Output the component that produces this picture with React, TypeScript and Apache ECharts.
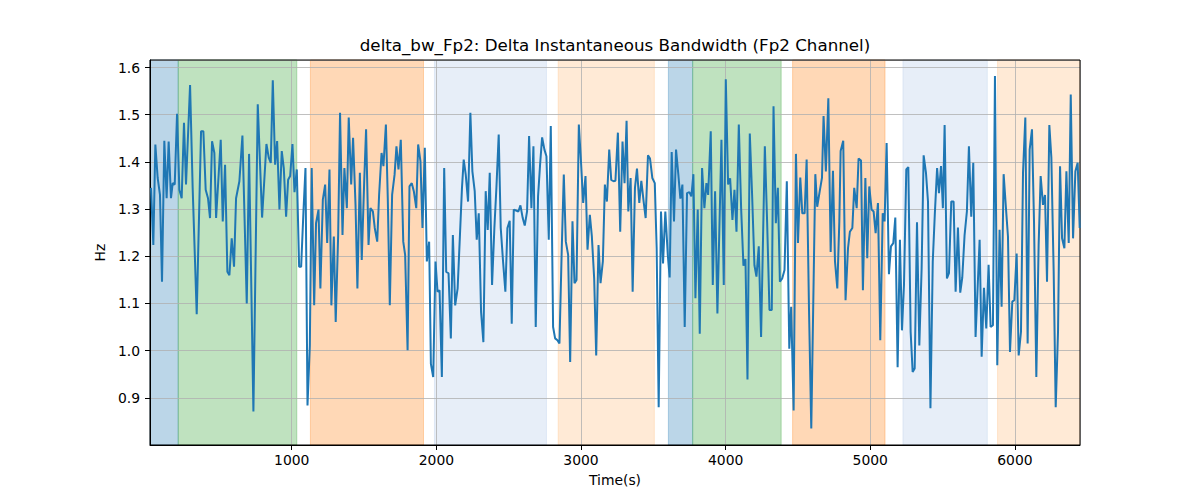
import React, { useEffect, useRef } from 'react';
import * as echarts from 'echarts';

// time stamps (s) and bandwidth values (Hz)
const times: number[] = [
  27, 43, 57, 73, 89, 103, 119, 135, 149, 165, 177, 191, 207, 223, 239, 255, 269, 297, 315, 343,
  373, 389, 405, 421, 435, 449, 465, 477, 509, 523, 539, 555, 569, 585, 601, 615, 638, 659, 689, 705,
  735, 765, 795, 825, 841, 855, 869, 885, 899, 915, 931, 945, 961, 975, 989, 1005, 1019, 1035, 1051, 1065,
  1081, 1095, 1109, 1125, 1138, 1155, 1168, 1185, 1198, 1215, 1231, 1245, 1261, 1274, 1291, 1304, 1321, 1334, 1351, 1364,
  1381, 1394, 1411, 1424, 1441, 1454, 1471, 1484, 1501, 1514, 1531, 1544, 1561, 1574, 1591, 1604, 1621, 1634, 1651, 1664,
  1678, 1694, 1711, 1724, 1738, 1754, 1771, 1784, 1801, 1814, 1830, 1844, 1861, 1874, 1890, 1904, 1920, 1934, 1950, 1962,
  1978, 1994, 2008, 2022, 2038, 2054, 2068, 2084, 2100, 2114, 2130, 2147, 2163, 2177, 2189, 2203, 2219, 2235, 2249, 2265,
  2279, 2293, 2309, 2325, 2341, 2355, 2369, 2385, 2401, 2415, 2431, 2445, 2461, 2477, 2491, 2507, 2521, 2535, 2551, 2567,
  2581, 2597, 2611, 2627, 2641, 2657, 2671, 2687, 2703, 2717, 2731, 2747, 2761, 2777, 2791, 2807, 2821, 2837, 2851, 2867,
  2881, 2895, 2911, 2925, 2941, 2955, 2969, 2985, 3001, 3015, 3031, 3045, 3061, 3075, 3091, 3105, 3121, 3135, 3151, 3165,
  3179, 3195, 3209, 3225, 3238, 3255, 3271, 3287, 3301, 3315, 3327, 3343, 3357, 3373, 3387, 3403, 3417, 3433, 3447, 3463,
  3477, 3493, 3510, 3523, 3537, 3553, 3567, 3583, 3600, 3613, 3627, 3643, 3657, 3673, 3687, 3701, 3717, 3733, 3749, 3763,
  3777, 3791, 3807, 3821, 3837, 3853, 3867, 3879, 3897, 3911, 3927, 3943, 3971, 3987, 4001, 4017, 4031, 4047, 4061, 4075,
  4091, 4107, 4123, 4137, 4151, 4167, 4183, 4199, 4213, 4229, 4245, 4271, 4287, 4303, 4319, 4331, 4347, 4361, 4375, 4391,
  4407, 4423, 4440, 4453, 4470, 4486, 4500, 4516, 4530, 4546, 4560, 4576, 4592, 4620, 4633, 4650, 4666, 4677, 4693, 4710,
  4726, 4742, 4756, 4772, 4786, 4795, 4813, 4829, 4846, 4859, 4876, 4889, 4906, 4919, 4936, 4949, 4966, 4979, 4993, 5009,
  5023, 5037, 5053, 5069, 5086, 5099, 5113, 5129, 5143, 5159, 5173, 5189, 5205, 5219, 5233, 5249, 5263, 5279, 5293, 5307,
  5323, 5339, 5355, 5369, 5385, 5399, 5416, 5432, 5446, 5462, 5475, 5489, 5502, 5514, 5530, 5544, 5560, 5576, 5590, 5606,
  5622, 5636, 5652, 5668, 5682, 5698, 5712, 5728, 5756, 5770, 5786, 5802, 5818, 5832, 5848, 5862, 5878, 5894, 5908, 5922,
  5938, 5952, 5966, 5982, 5996, 6012, 6026, 6042, 6056, 6072, 6088, 6102, 6118, 6132, 6148, 6164, 6178, 6194, 6208, 6222,
  6238, 6252, 6268, 6282, 6298, 6312, 6326, 6342, 6356, 6372, 6386, 6402, 6418, 6434, 6448,
];

const bandwidth: number[] = [
  1.345, 1.224, 1.437, 1.366, 1.33, 1.146, 1.445, 1.323, 1.443, 1.323, 1.355, 1.352, 1.502, 1.341, 1.323, 1.483, 1.352, 1.563, 1.345, 1.077,
  1.465, 1.465, 1.341, 1.323, 1.281, 1.444, 1.419, 1.281, 1.447, 1.274, 1.394, 1.167, 1.16, 1.238, 1.178, 1.323, 1.359, 1.456, 1.1, 1.417,
  0.871, 1.522, 1.282, 1.438, 1.409, 1.398, 1.573, 1.394, 1.444, 1.299, 1.423, 1.387, 1.284, 1.362, 1.37, 1.438, 1.336, 1.384, 1.178, 1.178,
  1.295, 1.387, 0.884, 1.011, 1.387, 1.096, 1.27, 1.299, 1.132, 1.32, 1.352, 1.228, 1.384, 1.096, 1.242, 1.061, 1.245, 1.504, 1.245, 1.387,
  1.302, 1.494, 1.352, 1.451, 1.309, 1.132, 1.377, 1.192, 1.359, 1.469, 1.224, 1.302, 1.295, 1.26, 1.231, 1.33, 1.419, 1.391, 1.479, 1.323,
  1.096, 1.33, 1.373, 1.433, 1.384, 1.447, 1.231, 1.203, 1.001, 1.348, 1.355, 1.338, 1.302, 1.437, 1.401, 1.26, 1.43, 1.189, 1.231, 0.972,
  0.944, 1.189, 1.125, 1.128, 0.944, 1.387, 1.167, 1.164, 1.026, 1.245, 1.096, 1.132, 1.245, 1.345, 1.405, 1.373, 1.316, 1.504, 1.38, 1.338,
  1.235, 1.291, 1.082, 1.018, 1.338, 1.256, 1.377, 1.139, 1.26, 1.345, 1.458, 1.26, 1.189, 1.125, 1.26, 1.275, 1.057, 1.299, 1.297, 1.295,
  1.308, 1.281, 1.265, 1.295, 1.455, 1.302, 1.433, 1.05, 1.327, 1.394, 1.452, 1.426, 1.412, 1.235, 1.476, 1.05, 1.026, 1.022, 1.015, 1.217,
  1.373, 1.231, 1.203, 0.976, 1.274, 1.143, 1.15, 1.479, 1.394, 1.313, 1.37, 1.214, 1.288, 1.242, 1.153, 0.99, 1.224, 1.143, 1.189, 1.352,
  1.316, 1.426, 1.362, 1.359, 1.36, 1.462, 1.252, 1.443, 1.355, 1.487, 1.295, 1.366, 1.125, 1.345, 1.386, 1.313, 1.36, 1.316, 1.281, 1.414,
  1.407, 1.366, 1.355, 1.217, 0.88, 1.295, 1.185, 1.295, 1.203, 1.155, 1.421, 1.274, 1.426, 1.373, 1.322, 1.352, 1.05, 1.334, 1.336, 1.327,
  1.374, 1.111, 1.299, 1.036, 1.387, 1.302, 1.355, 1.33, 1.465, 1.139, 1.338, 1.079, 1.447, 1.139, 1.575, 1.352, 1.365, 1.277, 1.341, 1.252,
  1.479, 1.302, 1.18, 1.194, 0.939, 1.46, 1.33, 1.181, 1.157, 1.221, 1.029, 1.433, 1.27, 1.086, 1.086, 1.518, 1.27, 1.345, 1.146, 1.153,
  1.171, 1.359, 1.004, 1.093, 0.873, 1.417, 1.228, 1.367, 1.291, 1.291, 1.405, 1.093, 0.835, 1.374, 1.305, 1.337, 1.366, 1.497, 1.38, 1.535,
  1.209, 1.381, 1.189, 1.132, 1.274, 1.423, 1.445, 1.107, 1.217, 1.252, 1.26, 1.345, 1.302, 1.407, 1.403, 1.128, 1.366, 1.196, 1.348, 1.299,
  1.295, 1.249, 1.313, 1.022, 1.291, 1.274, 1.44, 1.162, 1.221, 1.228, 1.282, 0.965, 1.235, 1.043, 1.139, 1.384, 1.389, 1.04, 0.955, 0.962,
  1.272, 1.011, 1.174, 1.414, 1.377, 1.316, 0.878, 1.189, 1.288, 1.387, 1.334, 1.391, 1.302, 1.478, 1.153, 1.164, 1.316, 1.316, 1.125, 1.261,
  1.123, 1.155, 1.245, 1.295, 1.433, 1.284, 1.398, 1.029, 1.235, 0.987, 1.133, 1.047, 1.182, 1.05, 1.054, 1.582, 0.969, 1.256, 1.093, 1.374,
  1.302, 1.242, 0.997, 1.104, 1.107, 1.206, 0.99, 1.04, 1.377, 1.494, 1.015, 1.426, 1.469, 1.274, 0.944, 1.224, 1.37, 1.309, 1.33, 1.146,
  1.478, 1.409, 1.167, 0.88, 1.04, 1.391, 1.238, 1.217, 1.38, 1.228, 1.543, 1.238, 1.38, 1.398, 1.26,
];

// shaded segments
const bandStart: number[] = [20, 215, 1129, 1987, 2842, 3604, 3772, 4463, 5226, 5880];
const bandEnd: number[] = [215, 1035, 1911, 2761, 3507, 3772, 4384, 5102, 5809, 6450];
const bandKind: string[] = ['blue', 'green', 'orange', 'lightblue', 'lightorange', 'blue', 'green', 'orange', 'lightblue', 'lightorange'];

const bandColors: Record<string, string> = {
  blue: 'rgba(31,119,180,0.3)',
  green: 'rgba(44,160,44,0.3)',
  orange: 'rgba(255,127,14,0.3)',
  lightblue: 'rgba(174,199,232,0.3)',
  lightorange: 'rgba(255,187,120,0.3)',
};

const FONT = 'DejaVu Sans';

export default function App() {
  const chartRef = useRef<HTMLDivElement | null>(null);

  useEffect(() => {
    if (!chartRef.current) return;
    const chart = echarts.init(chartRef.current, undefined, { renderer: 'svg' });

    const lineData = times.map((t, i) => [t, bandwidth[i]]);
    const areas = bandStart.map((s, i) => {
      const c = bandColors[bandKind[i]];
      return [
        { xAxis: s, itemStyle: { color: c, borderColor: c, borderWidth: 1 } },
        { xAxis: bandEnd[i] },
      ];
    });

    const option = {
      animation: false,
      grid: {
        left: 150,
        top: 60,
        width: 930,
        height: 385,
        show: true,
        borderColor: '#000',
        borderWidth: 1,
        backgroundColor: 'transparent',
        z: 1.6,
      },
      graphic: [
        {
          type: 'text',
          x: 615,
          y: 36,
          z: 10,
          style: {
            text: 'delta_bw_Fp2: Delta Instantaneous Bandwidth (Fp2 Channel)',
            fontSize: 16.7,
            fontFamily: FONT,
            fill: '#000',
            textAlign: 'center',
            textVerticalAlign: 'top',
          },
        },
      ],
      xAxis: {
        type: 'value',
        min: 20,
        max: 6450,
        z: 1.5,
        name: 'Time(s)',
        nameLocation: 'middle',
        nameGap: 28,
        nameTextStyle: { fontSize: 13.9, fontFamily: FONT, color: '#000' },
        axisLine: { show: true, lineStyle: { color: '#000', width: 1 } },
        axisTick: { show: true, inside: false, length: 5, lineStyle: { color: '#000' } },
        axisLabel: {
          fontSize: 13.9,
          fontFamily: FONT,
          color: '#000',
          margin: 8,
          showMinLabel: false,
          showMaxLabel: false,
          formatter: (v: number) => String(Math.round(v)),
        },
        splitLine: { show: true, lineStyle: { color: '#b0b0b0', width: 0.8 } },
      },
      yAxis: {
        type: 'value',
        min: 0.8,
        max: 1.616,
        interval: 0.1,
        z: 1.5,
        name: 'Hz',
        nameLocation: 'middle',
        nameGap: 38,
        nameRotate: 90,
        nameTextStyle: { fontSize: 13.9, fontFamily: FONT, color: '#000' },
        axisLine: { show: true, lineStyle: { color: '#000', width: 1 } },
        axisTick: { show: true, inside: false, length: 5, lineStyle: { color: '#000' } },
        axisLabel: {
          fontSize: 13.9,
          fontFamily: FONT,
          color: '#000',
          margin: 10,
          showMinLabel: false,
          showMaxLabel: false,
          formatter: (v: number) => v.toFixed(1),
        },
        splitLine: { show: true, lineStyle: { color: '#b0b0b0', width: 0.8 } },
      },
      series: [
        {
          name: 'bands',
          type: 'line',
          data: [],
          silent: true,
          markArea: { silent: true, z: 1, data: areas },
        },
        {
          name: 'delta_bw_Fp2',
          type: 'line',
          data: lineData,
          z: 3,
          showSymbol: false,
          symbol: 'none',
          lineStyle: { color: '#1f77b4', width: 2 },
          itemStyle: { color: '#1f77b4' },
        },
      ],
    };

    chart.setOption(option);
    return () => {
      chart.dispose();
    };
  }, []);

  return (
    <div
      ref={chartRef}
      style={{ position: 'absolute', left: 0, top: 0, width: '1200px', height: '500px', background: '#fff' }}
    ></div>
  );
}
